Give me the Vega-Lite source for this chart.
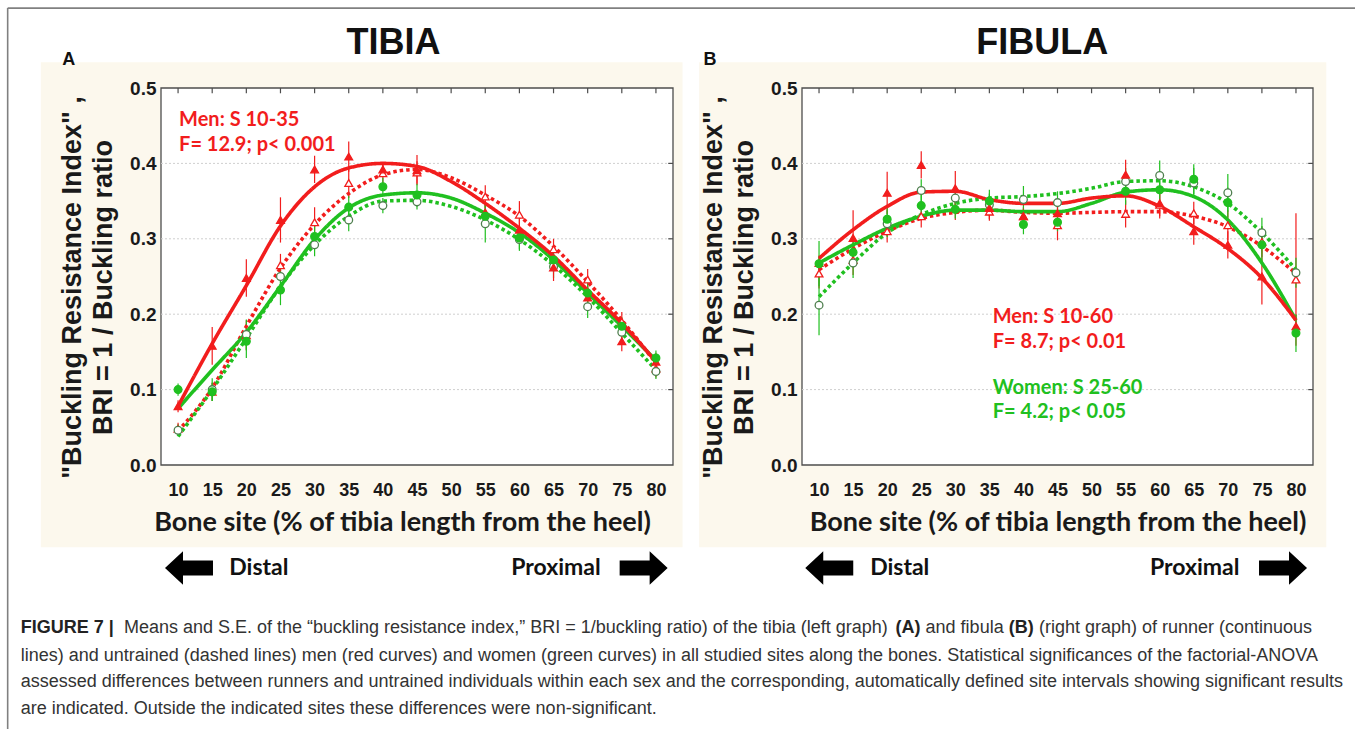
{
"$schema":"https://vega.github.io/schema/vega-lite/v6.json",
"background":"white",
"padding":{"left":6,"top":7,"right":0,"bottom":0},
"spacing":129,
"bounds":"flush",
"config":{
 "view":{"stroke":null},
 "axis":{"grid":false,"ticks":false,"domain":false,"labelColor":"#1a1a1a","titleColor":"#1a1a1a"},
 "axisX":{"labelFont":"Liberation Sans","labelFontSize":18,"labelFontWeight":"bold","labelPadding":16,"labelFlush":false,"labelOverlap":false,"titleFont":"Lato","titleFontSize":27,"titleFontWeight":"bold","titlePadding":10},
 "axisY":{"labelFont":"Liberation Sans","labelFontSize":19,"labelFontWeight":"bold","labelPadding":5,"titleFont":"Liberation Sans","titleFontSize":27,"titleFontWeight":"bold","titleLineHeight":31,"titlePadding":12}
},
"datasets":{
 "tibia_pts":[
  {"site":10,"group":"Men untrained","mean":0.048,"lo":0.040,"hi":0.056},
  {"site":15,"group":"Men untrained","mean":0.097,"lo":0.085,"hi":0.109},
  {"site":20,"group":"Men untrained","mean":0.172,"lo":0.152,"hi":0.192},
  {"site":25,"group":"Men untrained","mean":0.265,"lo":0.250,"hi":0.280},
  {"site":30,"group":"Men untrained","mean":0.322,"lo":0.302,"hi":0.342},
  {"site":35,"group":"Men untrained","mean":0.374,"lo":0.354,"hi":0.394},
  {"site":40,"group":"Men untrained","mean":0.387,"lo":0.372,"hi":0.402},
  {"site":45,"group":"Men untrained","mean":0.388,"lo":0.373,"hi":0.403},
  {"site":55,"group":"Men untrained","mean":0.356,"lo":0.341,"hi":0.371},
  {"site":60,"group":"Men untrained","mean":0.332,"lo":0.314,"hi":0.350},
  {"site":65,"group":"Men untrained","mean":0.286,"lo":0.272,"hi":0.300},
  {"site":70,"group":"Men untrained","mean":0.246,"lo":0.232,"hi":0.260},
  {"site":75,"group":"Men untrained","mean":0.190,"lo":0.177,"hi":0.203},
  {"site":80,"group":"Men untrained","mean":0.128,"lo":0.116,"hi":0.140},
  {"site":10,"group":"Women untrained","mean":0.046,"lo":0.038,"hi":0.054},
  {"site":15,"group":"Women untrained","mean":0.100,"lo":0.085,"hi":0.115},
  {"site":20,"group":"Women untrained","mean":0.173,"lo":0.153,"hi":0.193},
  {"site":25,"group":"Women untrained","mean":0.250,"lo":0.230,"hi":0.270},
  {"site":30,"group":"Women untrained","mean":0.292,"lo":0.277,"hi":0.307},
  {"site":35,"group":"Women untrained","mean":0.325,"lo":0.310,"hi":0.340},
  {"site":40,"group":"Women untrained","mean":0.344,"lo":0.334,"hi":0.354},
  {"site":45,"group":"Women untrained","mean":0.349,"lo":0.339,"hi":0.359},
  {"site":55,"group":"Women untrained","mean":0.320,"lo":0.295,"hi":0.345},
  {"site":60,"group":"Women untrained","mean":0.299,"lo":0.284,"hi":0.314},
  {"site":65,"group":"Women untrained","mean":0.263,"lo":0.248,"hi":0.278},
  {"site":70,"group":"Women untrained","mean":0.210,"lo":0.195,"hi":0.225},
  {"site":75,"group":"Women untrained","mean":0.176,"lo":0.164,"hi":0.188},
  {"site":80,"group":"Women untrained","mean":0.124,"lo":0.114,"hi":0.134},
  {"site":10,"group":"Men runners","mean":0.078,"lo":0.070,"hi":0.086},
  {"site":15,"group":"Men runners","mean":0.158,"lo":0.133,"hi":0.183},
  {"site":20,"group":"Men runners","mean":0.248,"lo":0.223,"hi":0.273},
  {"site":25,"group":"Men runners","mean":0.325,"lo":0.295,"hi":0.355},
  {"site":30,"group":"Men runners","mean":0.392,"lo":0.374,"hi":0.410},
  {"site":35,"group":"Men runners","mean":0.409,"lo":0.389,"hi":0.429},
  {"site":40,"group":"Men runners","mean":0.392,"lo":0.382,"hi":0.402},
  {"site":45,"group":"Men runners","mean":0.391,"lo":0.371,"hi":0.411},
  {"site":55,"group":"Men runners","mean":0.335,"lo":0.320,"hi":0.350},
  {"site":60,"group":"Men runners","mean":0.312,"lo":0.297,"hi":0.327},
  {"site":65,"group":"Men runners","mean":0.262,"lo":0.244,"hi":0.280},
  {"site":70,"group":"Men runners","mean":0.222,"lo":0.207,"hi":0.237},
  {"site":75,"group":"Men runners","mean":0.164,"lo":0.151,"hi":0.177},
  {"site":80,"group":"Men runners","mean":0.137,"lo":0.125,"hi":0.149},
  {"site":10,"group":"Women runners","mean":0.100,"lo":0.092,"hi":0.108},
  {"site":15,"group":"Women runners","mean":0.097,"lo":0.085,"hi":0.109},
  {"site":20,"group":"Women runners","mean":0.164,"lo":0.142,"hi":0.186},
  {"site":25,"group":"Women runners","mean":0.232,"lo":0.212,"hi":0.252},
  {"site":30,"group":"Women runners","mean":0.303,"lo":0.288,"hi":0.318},
  {"site":35,"group":"Women runners","mean":0.342,"lo":0.327,"hi":0.357},
  {"site":40,"group":"Women runners","mean":0.369,"lo":0.357,"hi":0.381},
  {"site":45,"group":"Women runners","mean":0.358,"lo":0.343,"hi":0.373},
  {"site":55,"group":"Women runners","mean":0.330,"lo":0.315,"hi":0.345},
  {"site":60,"group":"Women runners","mean":0.301,"lo":0.286,"hi":0.316},
  {"site":65,"group":"Women runners","mean":0.272,"lo":0.257,"hi":0.287},
  {"site":70,"group":"Women runners","mean":0.228,"lo":0.213,"hi":0.243},
  {"site":75,"group":"Women runners","mean":0.184,"lo":0.172,"hi":0.196},
  {"site":80,"group":"Women runners","mean":0.142,"lo":0.132,"hi":0.152}
 ],
 "tibia_fit":[
  {"site":10,"group":"Men untrained","fit":0.045},{"site":15,"group":"Men untrained","fit":0.102},{"site":20,"group":"Men untrained","fit":0.184},{"site":25,"group":"Men untrained","fit":0.261},{"site":30,"group":"Men untrained","fit":0.319},{"site":35,"group":"Men untrained","fit":0.360},{"site":40,"group":"Men untrained","fit":0.385},{"site":45,"group":"Men untrained","fit":0.392},{"site":50,"group":"Men untrained","fit":0.381},{"site":55,"group":"Men untrained","fit":0.358},{"site":60,"group":"Men untrained","fit":0.330},{"site":65,"group":"Men untrained","fit":0.290},{"site":70,"group":"Men untrained","fit":0.243},{"site":75,"group":"Men untrained","fit":0.192},{"site":80,"group":"Men untrained","fit":0.135},
  {"site":10,"group":"Women untrained","fit":0.038},{"site":15,"group":"Women untrained","fit":0.100},{"site":20,"group":"Women untrained","fit":0.168},{"site":25,"group":"Women untrained","fit":0.237},{"site":30,"group":"Women untrained","fit":0.292},{"site":35,"group":"Women untrained","fit":0.330},{"site":40,"group":"Women untrained","fit":0.350},{"site":45,"group":"Women untrained","fit":0.351},{"site":50,"group":"Women untrained","fit":0.343},{"site":55,"group":"Women untrained","fit":0.325},{"site":60,"group":"Women untrained","fit":0.299},{"site":65,"group":"Women untrained","fit":0.265},{"site":70,"group":"Women untrained","fit":0.223},{"site":75,"group":"Women untrained","fit":0.175},{"site":80,"group":"Women untrained","fit":0.126},
  {"site":10,"group":"Women runners","fit":0.075},{"site":15,"group":"Women runners","fit":0.126},{"site":20,"group":"Women runners","fit":0.176},{"site":25,"group":"Women runners","fit":0.237},{"site":30,"group":"Women runners","fit":0.299},{"site":35,"group":"Women runners","fit":0.341},{"site":40,"group":"Women runners","fit":0.358},{"site":45,"group":"Women runners","fit":0.361},{"site":50,"group":"Women runners","fit":0.354},{"site":55,"group":"Women runners","fit":0.334},{"site":60,"group":"Women runners","fit":0.308},{"site":65,"group":"Women runners","fit":0.272},{"site":70,"group":"Women runners","fit":0.228},{"site":75,"group":"Women runners","fit":0.184},{"site":80,"group":"Women runners","fit":0.139},
  {"site":10,"group":"Men runners","fit":0.078},{"site":15,"group":"Men runners","fit":0.161},{"site":20,"group":"Men runners","fit":0.238},{"site":25,"group":"Men runners","fit":0.317},{"site":30,"group":"Men runners","fit":0.369},{"site":35,"group":"Men runners","fit":0.394},{"site":40,"group":"Men runners","fit":0.400},{"site":45,"group":"Men runners","fit":0.396},{"site":50,"group":"Men runners","fit":0.376},{"site":55,"group":"Men runners","fit":0.347},{"site":60,"group":"Men runners","fit":0.314},{"site":65,"group":"Men runners","fit":0.277},{"site":70,"group":"Men runners","fit":0.232},{"site":75,"group":"Men runners","fit":0.188},{"site":80,"group":"Men runners","fit":0.137}
 ],
 "fibula_pts":[
  {"site":10,"group":"Men untrained","mean":0.254,"lo":0.234,"hi":0.274},
  {"site":15,"group":"Men untrained","mean":0.272,"lo":0.252,"hi":0.292},
  {"site":20,"group":"Men untrained","mean":0.310,"lo":0.295,"hi":0.325},
  {"site":25,"group":"Men untrained","mean":0.330,"lo":0.315,"hi":0.345},
  {"site":30,"group":"Men untrained","mean":0.340,"lo":0.325,"hi":0.355},
  {"site":35,"group":"Men untrained","mean":0.336,"lo":0.324,"hi":0.348},
  {"site":40,"group":"Men untrained","mean":0.330,"lo":0.318,"hi":0.342},
  {"site":45,"group":"Men untrained","mean":0.318,"lo":0.298,"hi":0.338},
  {"site":55,"group":"Men untrained","mean":0.333,"lo":0.315,"hi":0.351},
  {"site":60,"group":"Men untrained","mean":0.345,"lo":0.330,"hi":0.360},
  {"site":65,"group":"Men untrained","mean":0.334,"lo":0.319,"hi":0.349},
  {"site":70,"group":"Men untrained","mean":0.318,"lo":0.298,"hi":0.338},
  {"site":75,"group":"Men untrained","mean":0.296,"lo":0.276,"hi":0.316},
  {"site":80,"group":"Men untrained","mean":0.246,"lo":0.158,"hi":0.334},
  {"site":10,"group":"Women untrained","mean":0.212,"lo":0.172,"hi":0.252},
  {"site":15,"group":"Women untrained","mean":0.268,"lo":0.248,"hi":0.288},
  {"site":20,"group":"Women untrained","mean":0.320,"lo":0.302,"hi":0.338},
  {"site":25,"group":"Women untrained","mean":0.364,"lo":0.349,"hi":0.379},
  {"site":30,"group":"Women untrained","mean":0.354,"lo":0.339,"hi":0.369},
  {"site":35,"group":"Women untrained","mean":0.345,"lo":0.330,"hi":0.360},
  {"site":40,"group":"Women untrained","mean":0.352,"lo":0.334,"hi":0.370},
  {"site":45,"group":"Women untrained","mean":0.348,"lo":0.333,"hi":0.363},
  {"site":55,"group":"Women untrained","mean":0.376,"lo":0.358,"hi":0.394},
  {"site":60,"group":"Women untrained","mean":0.384,"lo":0.364,"hi":0.404},
  {"site":65,"group":"Women untrained","mean":0.374,"lo":0.354,"hi":0.394},
  {"site":70,"group":"Women untrained","mean":0.361,"lo":0.336,"hi":0.386},
  {"site":75,"group":"Women untrained","mean":0.308,"lo":0.288,"hi":0.328},
  {"site":80,"group":"Women untrained","mean":0.255,"lo":0.235,"hi":0.275},
  {"site":10,"group":"Men runners","mean":0.268,"lo":0.258,"hi":0.278},
  {"site":15,"group":"Men runners","mean":0.301,"lo":0.264,"hi":0.338},
  {"site":20,"group":"Men runners","mean":0.361,"lo":0.333,"hi":0.389},
  {"site":25,"group":"Men runners","mean":0.398,"lo":0.380,"hi":0.416},
  {"site":30,"group":"Men runners","mean":0.367,"lo":0.344,"hi":0.390},
  {"site":35,"group":"Men runners","mean":0.341,"lo":0.326,"hi":0.356},
  {"site":40,"group":"Men runners","mean":0.330,"lo":0.320,"hi":0.340},
  {"site":45,"group":"Men runners","mean":0.334,"lo":0.321,"hi":0.347},
  {"site":55,"group":"Men runners","mean":0.385,"lo":0.365,"hi":0.405},
  {"site":60,"group":"Men runners","mean":0.347,"lo":0.327,"hi":0.367},
  {"site":65,"group":"Men runners","mean":0.310,"lo":0.292,"hi":0.328},
  {"site":70,"group":"Men runners","mean":0.292,"lo":0.274,"hi":0.310},
  {"site":75,"group":"Men runners","mean":0.250,"lo":0.213,"hi":0.287},
  {"site":80,"group":"Men runners","mean":0.184,"lo":0.169,"hi":0.199},
  {"site":10,"group":"Women runners","mean":0.267,"lo":0.237,"hi":0.297},
  {"site":15,"group":"Women runners","mean":0.282,"lo":0.262,"hi":0.302},
  {"site":20,"group":"Women runners","mean":0.326,"lo":0.308,"hi":0.344},
  {"site":25,"group":"Women runners","mean":0.344,"lo":0.329,"hi":0.359},
  {"site":30,"group":"Women runners","mean":0.339,"lo":0.327,"hi":0.351},
  {"site":35,"group":"Women runners","mean":0.350,"lo":0.335,"hi":0.365},
  {"site":40,"group":"Women runners","mean":0.319,"lo":0.306,"hi":0.332},
  {"site":45,"group":"Women runners","mean":0.322,"lo":0.310,"hi":0.334},
  {"site":55,"group":"Women runners","mean":0.363,"lo":0.345,"hi":0.381},
  {"site":60,"group":"Women runners","mean":0.365,"lo":0.345,"hi":0.385},
  {"site":65,"group":"Women runners","mean":0.379,"lo":0.359,"hi":0.399},
  {"site":70,"group":"Women runners","mean":0.348,"lo":0.328,"hi":0.368},
  {"site":75,"group":"Women runners","mean":0.292,"lo":0.267,"hi":0.317},
  {"site":80,"group":"Women runners","mean":0.175,"lo":0.150,"hi":0.200}
 ],
 "fibula_fit":[
  {"site":10,"group":"Men untrained","fit":0.259},{"site":15,"group":"Men untrained","fit":0.287},{"site":20,"group":"Men untrained","fit":0.310},{"site":25,"group":"Men untrained","fit":0.327},{"site":30,"group":"Men untrained","fit":0.335},{"site":35,"group":"Men untrained","fit":0.338},{"site":40,"group":"Men untrained","fit":0.335},{"site":45,"group":"Men untrained","fit":0.334},{"site":50,"group":"Men untrained","fit":0.335},{"site":55,"group":"Men untrained","fit":0.336},{"site":60,"group":"Men untrained","fit":0.336},{"site":65,"group":"Men untrained","fit":0.330},{"site":70,"group":"Men untrained","fit":0.316},{"site":75,"group":"Men untrained","fit":0.290},{"site":80,"group":"Men untrained","fit":0.254},
  {"site":10,"group":"Women untrained","fit":0.223},{"site":15,"group":"Women untrained","fit":0.268},{"site":20,"group":"Women untrained","fit":0.308},{"site":25,"group":"Women untrained","fit":0.332},{"site":30,"group":"Women untrained","fit":0.347},{"site":35,"group":"Women untrained","fit":0.354},{"site":40,"group":"Women untrained","fit":0.356},{"site":45,"group":"Women untrained","fit":0.360},{"site":50,"group":"Women untrained","fit":0.367},{"site":55,"group":"Women untrained","fit":0.376},{"site":60,"group":"Women untrained","fit":0.377},{"site":65,"group":"Women untrained","fit":0.369},{"site":70,"group":"Women untrained","fit":0.347},{"site":75,"group":"Women untrained","fit":0.308},{"site":80,"group":"Women untrained","fit":0.259},
  {"site":10,"group":"Women runners","fit":0.268},{"site":15,"group":"Women runners","fit":0.292},{"site":20,"group":"Women runners","fit":0.314},{"site":25,"group":"Women runners","fit":0.330},{"site":30,"group":"Women runners","fit":0.338},{"site":35,"group":"Women runners","fit":0.338},{"site":40,"group":"Women runners","fit":0.336},{"site":45,"group":"Women runners","fit":0.336},{"site":50,"group":"Women runners","fit":0.347},{"site":55,"group":"Women runners","fit":0.362},{"site":60,"group":"Women runners","fit":0.365},{"site":65,"group":"Women runners","fit":0.356},{"site":70,"group":"Women runners","fit":0.325},{"site":75,"group":"Women runners","fit":0.268},{"site":80,"group":"Women runners","fit":0.192},
  {"site":10,"group":"Men runners","fit":0.274},{"site":15,"group":"Men runners","fit":0.312},{"site":20,"group":"Men runners","fit":0.343},{"site":25,"group":"Men runners","fit":0.362},{"site":30,"group":"Men runners","fit":0.363},{"site":35,"group":"Men runners","fit":0.352},{"site":40,"group":"Men runners","fit":0.347},{"site":45,"group":"Men runners","fit":0.347},{"site":50,"group":"Men runners","fit":0.354},{"site":55,"group":"Men runners","fit":0.357},{"site":60,"group":"Men runners","fit":0.343},{"site":65,"group":"Men runners","fit":0.316},{"site":70,"group":"Men runners","fit":0.287},{"site":75,"group":"Men runners","fit":0.248},{"site":80,"group":"Men runners","fit":0.192}
 ]
},
"hconcat":[
 {"width":512,"height":377,
  "layer":[
   {"data":{"values":[{}]},"mark":{"type":"rect","color":"#fcf8ed"},
    "encoding":{"x":{"datum":-10.1,"type":"quantitative","scale":{"domain":[7.5,82.5],"nice":false,"zero":false}},"x2":{"datum":83.9},
                "y":{"datum":-0.109,"type":"quantitative","scale":{"domain":[0,0.5],"nice":false,"zero":false}},"y2":{"datum":0.534}}},
   {"data":{"values":[{}]},"mark":{"type":"rule","color":"#808080","strokeWidth":1.6},
    "encoding":{"x":{"datum":-14.96,"type":"quantitative","scale":{"domain":[7.5,82.5],"nice":false,"zero":false}},
                "y":{"datum":-0.35,"type":"quantitative","scale":{"domain":[0,0.5],"nice":false,"zero":false}},"y2":{"datum":0.606}}},
   {"data":{"values":[{}]},"mark":{"type":"rule","color":"#808080","strokeWidth":1.6},
    "encoding":{"x":{"datum":-14.96,"type":"quantitative","scale":{"domain":[7.5,82.5],"nice":false,"zero":false}},"x2":{"datum":182.5},
                "y":{"datum":0.606,"type":"quantitative","scale":{"domain":[0,0.5],"nice":false,"zero":false}}}},
   {"data":{"values":[{}]},"mark":{"type":"rect","fill":"#ffffff","stroke":"#4d4d4d","strokeWidth":1.3},
    "encoding":{"x":{"datum":7.5,"type":"quantitative","scale":{"domain":[7.5,82.5],"nice":false,"zero":false}},"x2":{"datum":82.5},
                "y":{"datum":0,"type":"quantitative","scale":{"domain":[0,0.5],"nice":false,"zero":false}},"y2":{"datum":0.5}}},
   {"data":{"values":[{"g":0.1},{"g":0.2},{"g":0.3},{"g":0.4}]},"mark":{"type":"rule","color":"#cfcfcf","strokeDash":[2,2],"strokeWidth":1},
    "encoding":{"x":{"datum":7.5,"type":"quantitative","scale":{"domain":[7.5,82.5],"nice":false,"zero":false}},"x2":{"datum":82.5},
                "y":{"field":"g","type":"quantitative","scale":{"domain":[0,0.5],"nice":false,"zero":false}}}},
   {"data":{"values":[{"g":0.1},{"g":0.2},{"g":0.3},{"g":0.4}]},"mark":{"type":"rule","color":"#4d4d4d","strokeWidth":1.2},
    "encoding":{"x":{"datum":82.5,"type":"quantitative","scale":{"domain":[7.5,82.5],"nice":false,"zero":false}},"x2":{"datum":81.8},
                "y":{"field":"g","type":"quantitative","scale":{"domain":[0,0.5],"nice":false,"zero":false}}}},
   {"data":{"values":[{"t":10},{"t":15},{"t":20},{"t":25},{"t":30},{"t":35},{"t":40},{"t":45},{"t":50},{"t":55},{"t":60},{"t":65},{"t":70},{"t":75},{"t":80}]},"mark":{"type":"rule","color":"#4d4d4d","strokeWidth":1.2},
    "encoding":{"x":{"field":"t","type":"quantitative","scale":{"domain":[7.5,82.5],"nice":false,"zero":false}},
                "y":{"datum":0.5,"type":"quantitative","scale":{"domain":[0,0.5],"nice":false,"zero":false}},"y2":{"datum":0.493}}},
   {"data":{"name":"tibia_pts"},"mark":{"type":"rule","strokeWidth":1.2},
    "encoding":{"x":{"field":"site","type":"quantitative","scale":{"domain":[7.5,82.5],"nice":false,"zero":false}},
                "y":{"field":"lo","type":"quantitative","scale":{"domain":[0,0.5],"nice":false,"zero":false}},"y2":{"field":"hi"},
                "color":{"field":"group","type":"nominal","legend":null,"scale":{"domain":["Men untrained","Women untrained","Men runners","Women runners"],"range":["#f21d1d","#20c020","#f21d1d","#20c020"]}}}},
   {"data":{"name":"tibia_fit"},"mark":{"type":"line","interpolate":"monotone","strokeWidth":3.6},
    "encoding":{"x":{"field":"site","type":"quantitative","scale":{"domain":[7.5,82.5],"nice":false,"zero":false}},
                "y":{"field":"fit","type":"quantitative","scale":{"domain":[0,0.5],"nice":false,"zero":false}},
                "color":{"field":"group","type":"nominal","legend":null,"scale":{"domain":["Men untrained","Women untrained","Men runners","Women runners"],"range":["#f21d1d","#20c020","#f21d1d","#20c020"]}},
                "strokeDash":{"field":"group","type":"nominal","legend":null,"scale":{"domain":["Men untrained","Women untrained","Men runners","Women runners"],"range":[[3.5,3],[3.5,3],[1,0],[1,0]]}}}},
   {"data":{"name":"tibia_pts"},"mark":{"type":"point","filled":true,"opacity":1,"strokeWidth":1.3,"size":60},
    "encoding":{"x":{"field":"site","type":"quantitative","scale":{"domain":[7.5,82.5],"nice":false,"zero":false},
                     "axis":{"zindex":1,"labelOverlap":false,"labelSeparation":-12,"tickCount":15,"values":[10,15,20,25,30,35,40,45,50,55,60,65,70,75,80],"title":"Bone site (% of tibia length from the heel)","titleX":241}},
                "y":{"field":"mean","type":"quantitative","scale":{"domain":[0,0.5],"nice":false,"zero":false},
                     "axis":{"zindex":1,"labelOverlap":false,"values":[0,0.1,0.2,0.3,0.4,0.5],"format":".1f","titleY":199,"title":["\"Buckling Resistance Index\" ,","BRI = 1 / Buckling ratio"]}},
                "shape":{"field":"group","type":"nominal","legend":null,"scale":{"domain":["Men untrained","Women untrained","Men runners","Women runners"],"range":["triangle-up","circle","triangle-up","circle"]}},
                "fill":{"field":"group","type":"nominal","legend":null,"scale":{"domain":["Men untrained","Women untrained","Men runners","Women runners"],"range":["#ffffff","#ffffff","#f21d1d","#20c020"]}},
                "stroke":{"field":"group","type":"nominal","legend":null,"scale":{"domain":["Men untrained","Women untrained","Men runners","Women runners"],"range":["#f21d1d","#4f7f4f","#f21d1d","#20c020"]}}}},
   {"data":{"values":[{"site":10.15,"val":0.458,"label":"Men: S 10-35","group":"Men runners"},{"site":10.15,"val":0.424,"label":"F= 12.9; p< 0.001","group":"Men runners"}]},
    "mark":{"type":"text","align":"left","baseline":"middle","font":"Lato","fontWeight":"bold","fontSize":20},
    "encoding":{"x":{"field":"site","type":"quantitative","scale":{"domain":[7.5,82.5],"nice":false,"zero":false}},
                "y":{"field":"val","type":"quantitative","scale":{"domain":[0,0.5],"nice":false,"zero":false}},
                "text":{"field":"label"},
                "color":{"field":"group","type":"nominal","legend":null,"scale":{"domain":["Men untrained","Women untrained","Men runners","Women runners"],"range":["#f21d1d","#20c020","#f21d1d","#20c020"]}}}},
   {"data":{"values":[{"site":-6.0,"val":0.53,"label":"A"}]},
    "mark":{"type":"text","align":"center","baseline":"alphabetic","font":"Liberation Sans","fontWeight":"bold","fontSize":18,"color":"#111"},
    "encoding":{"x":{"field":"site","type":"quantitative","scale":{"domain":[7.5,82.5],"nice":false,"zero":false}},
                "y":{"field":"val","type":"quantitative","scale":{"domain":[0,0.5],"nice":false,"zero":false}},
                "text":{"field":"label"}}},
   {"data":{"values":[{"site":41.57,"val":0.545,"label":"TIBIA"}]},
    "mark":{"type":"text","align":"center","baseline":"alphabetic","font":"Liberation Sans","fontWeight":"bold","fontSize":36,"color":"#111"},
    "encoding":{"x":{"field":"site","type":"quantitative","scale":{"domain":[7.5,82.5],"nice":false,"zero":false}},
                "y":{"field":"val","type":"quantitative","scale":{"domain":[0,0.5],"nice":false,"zero":false}},
                "text":{"field":"label"}}},
   {"data":{"values":[{}]},"mark":{"type":"point","shape":"M-1,0L-0.25,-0.7L-0.25,-0.31L1,-0.31L1,0.31L-0.25,0.31L-0.25,0.7Z","size":2304,"filled":true,"opacity":1,"color":"#000000"},
    "encoding":{"x":{"datum":11.6,"type":"quantitative","scale":{"domain":[7.5,82.5],"nice":false,"zero":false}},
                "y":{"datum":-0.1366,"type":"quantitative","scale":{"domain":[0,0.5],"nice":false,"zero":false}}}},
   {"data":{"values":[{}]},"mark":{"type":"point","shape":"M1,0L0.25,-0.7L0.25,-0.31L-1,-0.31L-1,0.31L0.25,0.31L0.25,0.7Z","size":2304,"filled":true,"opacity":1,"color":"#000000"},
    "encoding":{"x":{"datum":78.2,"type":"quantitative","scale":{"domain":[7.5,82.5],"nice":false,"zero":false}},
                "y":{"datum":-0.1366,"type":"quantitative","scale":{"domain":[0,0.5],"nice":false,"zero":false}}}},
   {"data":{"values":[{"site":17.5,"val":-0.1366,"label":"Distal"}]},
    "mark":{"type":"text","align":"left","baseline":"middle","font":"Lato","fontWeight":"bold","fontSize":23,"color":"#111"},
    "encoding":{"x":{"field":"site","type":"quantitative","scale":{"domain":[7.5,82.5],"nice":false,"zero":false}},
                "y":{"field":"val","type":"quantitative","scale":{"domain":[0,0.5],"nice":false,"zero":false}},
                "text":{"field":"label"}}},
   {"data":{"values":[{"site":71.9,"val":-0.1366,"label":"Proximal"}]},
    "mark":{"type":"text","align":"right","baseline":"middle","font":"Lato","fontWeight":"bold","fontSize":23,"color":"#111"},
    "encoding":{"x":{"field":"site","type":"quantitative","scale":{"domain":[7.5,82.5],"nice":false,"zero":false}},
                "y":{"field":"val","type":"quantitative","scale":{"domain":[0,0.5],"nice":false,"zero":false}},
                "text":{"field":"label"}}},
   {"data":{"values":[
     {"site":2.07,"val":-0.2162,"label":"Means and S.E. of the “buckling resistance index,” BRI = 1/buckling ratio) of the tibia (left graph)"},
     {"site":119.5,"val":-0.2162,"label":"and fibula"},
     {"site":136.1,"val":-0.2162,"label":"(right graph) of runner (continuous"},
     {"site":-13.06,"val":-0.2533,"label":"lines) and untrained (dashed lines) men (red curves) and women (green curves) in all studied sites along the bones. Statistical significances of the factorial-ANOVA"},
     {"site":-13.06,"val":-0.2878,"label":"assessed differences between runners and untrained individuals within each sex and the corresponding, automatically defined site intervals showing significant results"},
     {"site":-13.06,"val":-0.3236,"label":"are indicated. Outside the indicated sites these differences were non-significant."}]},
    "mark":{"type":"text","align":"left","baseline":"middle","font":"Liberation Sans","fontSize":18,"color":"#333333"},
    "encoding":{"x":{"field":"site","type":"quantitative","scale":{"domain":[7.5,82.5],"nice":false,"zero":false}},
                "y":{"field":"val","type":"quantitative","scale":{"domain":[0,0.5],"nice":false,"zero":false}},
                "text":{"field":"label"}}},
   {"data":{"values":[
     {"site":-13.06,"val":-0.2162,"label":"FIGURE 7 |"},
     {"site":115.1,"val":-0.2162,"label":"(A)"},
     {"site":131.7,"val":-0.2162,"label":"(B)"}]},
    "mark":{"type":"text","align":"left","baseline":"middle","font":"Liberation Sans","fontWeight":"bold","fontSize":18,"color":"#222222"},
    "encoding":{"x":{"field":"site","type":"quantitative","scale":{"domain":[7.5,82.5],"nice":false,"zero":false}},
                "y":{"field":"val","type":"quantitative","scale":{"domain":[0,0.5],"nice":false,"zero":false}},
                "text":{"field":"label"}}}
  ]},
 {"width":511,"height":377,
  "layer":[
   {"data":{"values":[{}]},"mark":{"type":"rect","color":"#fcf8ed"},
    "encoding":{"x":{"datum":-7.6,"type":"quantitative","scale":{"domain":[7.5,82.5],"nice":false,"zero":false}},"x2":{"datum":84.45},
                "y":{"datum":-0.109,"type":"quantitative","scale":{"domain":[0,0.5],"nice":false,"zero":false}},"y2":{"datum":0.534}}},
   {"data":{"values":[{}]},"mark":{"type":"rect","fill":"#ffffff","stroke":"#4d4d4d","strokeWidth":1.3},
    "encoding":{"x":{"datum":7.5,"type":"quantitative","scale":{"domain":[7.5,82.5],"nice":false,"zero":false}},"x2":{"datum":82.5},
                "y":{"datum":0,"type":"quantitative","scale":{"domain":[0,0.5],"nice":false,"zero":false}},"y2":{"datum":0.5}}},
   {"data":{"values":[{"g":0.1},{"g":0.2},{"g":0.3},{"g":0.4}]},"mark":{"type":"rule","color":"#cfcfcf","strokeDash":[2,2],"strokeWidth":1},
    "encoding":{"x":{"datum":7.5,"type":"quantitative","scale":{"domain":[7.5,82.5],"nice":false,"zero":false}},"x2":{"datum":82.5},
                "y":{"field":"g","type":"quantitative","scale":{"domain":[0,0.5],"nice":false,"zero":false}}}},
   {"data":{"values":[{"g":0.1},{"g":0.2},{"g":0.3},{"g":0.4}]},"mark":{"type":"rule","color":"#4d4d4d","strokeWidth":1.2},
    "encoding":{"x":{"datum":82.5,"type":"quantitative","scale":{"domain":[7.5,82.5],"nice":false,"zero":false}},"x2":{"datum":81.8},
                "y":{"field":"g","type":"quantitative","scale":{"domain":[0,0.5],"nice":false,"zero":false}}}},
   {"data":{"values":[{"t":10},{"t":15},{"t":20},{"t":25},{"t":30},{"t":35},{"t":40},{"t":45},{"t":50},{"t":55},{"t":60},{"t":65},{"t":70},{"t":75},{"t":80}]},"mark":{"type":"rule","color":"#4d4d4d","strokeWidth":1.2},
    "encoding":{"x":{"field":"t","type":"quantitative","scale":{"domain":[7.5,82.5],"nice":false,"zero":false}},
                "y":{"datum":0.5,"type":"quantitative","scale":{"domain":[0,0.5],"nice":false,"zero":false}},"y2":{"datum":0.493}}},
   {"data":{"name":"fibula_pts"},"mark":{"type":"rule","strokeWidth":1.2},
    "encoding":{"x":{"field":"site","type":"quantitative","scale":{"domain":[7.5,82.5],"nice":false,"zero":false}},
                "y":{"field":"lo","type":"quantitative","scale":{"domain":[0,0.5],"nice":false,"zero":false}},"y2":{"field":"hi"},
                "color":{"field":"group","type":"nominal","legend":null,"scale":{"domain":["Men untrained","Women untrained","Men runners","Women runners"],"range":["#f21d1d","#20c020","#f21d1d","#20c020"]}}}},
   {"data":{"name":"fibula_fit"},"mark":{"type":"line","interpolate":"monotone","strokeWidth":3.6},
    "encoding":{"x":{"field":"site","type":"quantitative","scale":{"domain":[7.5,82.5],"nice":false,"zero":false}},
                "y":{"field":"fit","type":"quantitative","scale":{"domain":[0,0.5],"nice":false,"zero":false}},
                "color":{"field":"group","type":"nominal","legend":null,"scale":{"domain":["Men untrained","Women untrained","Men runners","Women runners"],"range":["#f21d1d","#20c020","#f21d1d","#20c020"]}},
                "strokeDash":{"field":"group","type":"nominal","legend":null,"scale":{"domain":["Men untrained","Women untrained","Men runners","Women runners"],"range":[[3.5,3],[3.5,3],[1,0],[1,0]]}}}},
   {"data":{"name":"fibula_pts"},"mark":{"type":"point","filled":true,"opacity":1,"strokeWidth":1.3,"size":60},
    "encoding":{"x":{"field":"site","type":"quantitative","scale":{"domain":[7.5,82.5],"nice":false,"zero":false},
                     "axis":{"zindex":1,"labelOverlap":false,"labelSeparation":-12,"tickCount":15,"values":[10,15,20,25,30,35,40,45,50,55,60,65,70,75,80],"title":"Bone site (% of tibia length from the heel)"}},
                "y":{"field":"mean","type":"quantitative","scale":{"domain":[0,0.5],"nice":false,"zero":false},
                     "axis":{"zindex":1,"labelOverlap":false,"values":[0,0.1,0.2,0.3,0.4,0.5],"format":".1f","titleY":199,"title":["\"Buckling Resistance Index\" ,","BRI = 1 / Buckling ratio"]}},
                "shape":{"field":"group","type":"nominal","legend":null,"scale":{"domain":["Men untrained","Women untrained","Men runners","Women runners"],"range":["triangle-up","circle","triangle-up","circle"]}},
                "fill":{"field":"group","type":"nominal","legend":null,"scale":{"domain":["Men untrained","Women untrained","Men runners","Women runners"],"range":["#ffffff","#ffffff","#f21d1d","#20c020"]}},
                "stroke":{"field":"group","type":"nominal","legend":null,"scale":{"domain":["Men untrained","Women untrained","Men runners","Women runners"],"range":["#f21d1d","#4f7f4f","#f21d1d","#20c020"]}}}},
   {"data":{"values":[{"site":35.5,"val":0.196,"label":"Men: S 10-60","group":"Men runners"},{"site":35.5,"val":0.163,"label":"F= 8.7; p< 0.01","group":"Men runners"},{"site":35.5,"val":0.102,"label":"Women: S 25-60","group":"Women runners"},{"site":35.5,"val":0.070,"label":"F= 4.2; p< 0.05","group":"Women runners"}]},
    "mark":{"type":"text","align":"left","baseline":"middle","font":"Lato","fontWeight":"bold","fontSize":20},
    "encoding":{"x":{"field":"site","type":"quantitative","scale":{"domain":[7.5,82.5],"nice":false,"zero":false}},
                "y":{"field":"val","type":"quantitative","scale":{"domain":[0,0.5],"nice":false,"zero":false}},
                "text":{"field":"label"},
                "color":{"field":"group","type":"nominal","legend":null,"scale":{"domain":["Men untrained","Women untrained","Men runners","Women runners"],"range":["#f21d1d","#20c020","#f21d1d","#20c020"]}}}},
   {"data":{"values":[{"site":-6.0,"val":0.53,"label":"B"}]},
    "mark":{"type":"text","align":"center","baseline":"alphabetic","font":"Liberation Sans","fontWeight":"bold","fontSize":18,"color":"#111"},
    "encoding":{"x":{"field":"site","type":"quantitative","scale":{"domain":[7.5,82.5],"nice":false,"zero":false}},
                "y":{"field":"val","type":"quantitative","scale":{"domain":[0,0.5],"nice":false,"zero":false}},
                "text":{"field":"label"}}},
   {"data":{"values":[{"site":42.75,"val":0.545,"label":"FIBULA"}]},
    "mark":{"type":"text","align":"center","baseline":"alphabetic","font":"Liberation Sans","fontWeight":"bold","fontSize":36,"color":"#111"},
    "encoding":{"x":{"field":"site","type":"quantitative","scale":{"domain":[7.5,82.5],"nice":false,"zero":false}},
                "y":{"field":"val","type":"quantitative","scale":{"domain":[0,0.5],"nice":false,"zero":false}},
                "text":{"field":"label"}}},
   {"data":{"values":[{}]},"mark":{"type":"point","shape":"M-1,0L-0.25,-0.7L-0.25,-0.31L1,-0.31L1,0.31L-0.25,0.31L-0.25,0.7Z","size":2304,"filled":true,"opacity":1,"color":"#000000"},
    "encoding":{"x":{"datum":11.5,"type":"quantitative","scale":{"domain":[7.5,82.5],"nice":false,"zero":false}},
                "y":{"datum":-0.1366,"type":"quantitative","scale":{"domain":[0,0.5],"nice":false,"zero":false}}}},
   {"data":{"values":[{}]},"mark":{"type":"point","shape":"M1,0L0.25,-0.7L0.25,-0.31L-1,-0.31L-1,0.31L0.25,0.31L0.25,0.7Z","size":2304,"filled":true,"opacity":1,"color":"#000000"},
    "encoding":{"x":{"datum":78.1,"type":"quantitative","scale":{"domain":[7.5,82.5],"nice":false,"zero":false}},
                "y":{"datum":-0.1366,"type":"quantitative","scale":{"domain":[0,0.5],"nice":false,"zero":false}}}},
   {"data":{"values":[{"site":17.5,"val":-0.1366,"label":"Distal"}]},
    "mark":{"type":"text","align":"left","baseline":"middle","font":"Lato","fontWeight":"bold","fontSize":23,"color":"#111"},
    "encoding":{"x":{"field":"site","type":"quantitative","scale":{"domain":[7.5,82.5],"nice":false,"zero":false}},
                "y":{"field":"val","type":"quantitative","scale":{"domain":[0,0.5],"nice":false,"zero":false}},
                "text":{"field":"label"}}},
   {"data":{"values":[{"site":71.7,"val":-0.1366,"label":"Proximal"}]},
    "mark":{"type":"text","align":"right","baseline":"middle","font":"Lato","fontWeight":"bold","fontSize":23,"color":"#111"},
    "encoding":{"x":{"field":"site","type":"quantitative","scale":{"domain":[7.5,82.5],"nice":false,"zero":false}},
                "y":{"field":"val","type":"quantitative","scale":{"domain":[0,0.5],"nice":false,"zero":false}},
                "text":{"field":"label"}}}
  ]}
]
}
